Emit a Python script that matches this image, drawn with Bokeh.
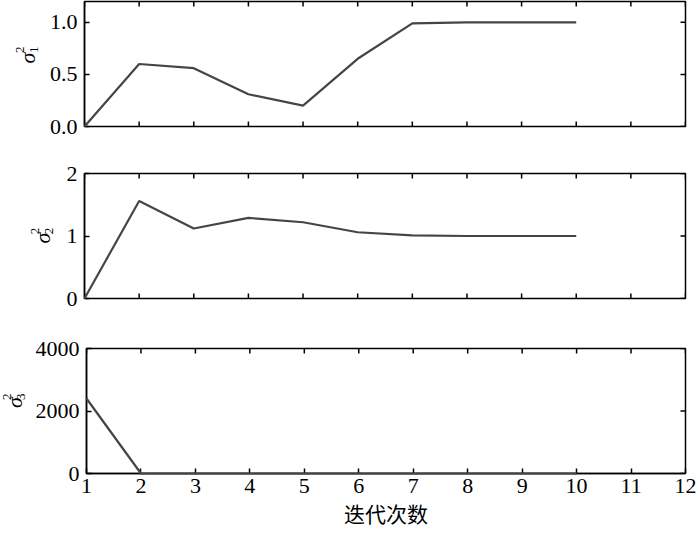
import math
from bokeh.plotting import figure
from bokeh.layouts import column, row
from bokeh.models import Range1d, FixedTicker, PrintfTickFormatter
from bokeh.core.properties import value
from bokeh.embed import file_html
from bokeh.resources import INLINE

iterations = [1, 2, 3, 4, 5, 6, 7, 8, 9, 10]
sigma1 = [0.0, 0.60, 0.56, 0.31, 0.20, 0.65, 0.99, 1.0, 1.0, 1.0]
sigma2 = [0.0, 1.56, 1.12, 1.29, 1.22, 1.06, 1.01, 1.0, 1.0, 1.0]
sigma3 = [2400, 0, 0, 0, 0, 0, 0, 0, 0, 0]

x_ticks = list(range(1, 13))
y_ticks = [[0, 0.5, 1.0], [0, 1, 2], [0, 2000, 4000]]
y_formats = ["%.1f", "%d", "%d"]
y_ranges = [(0, 1.2), (0, 2), (0, 4000)]
x_range = (1, 12)
subscripts = ["1", "2", "3"]
x_label = "迭代次数"

SERIF = "Liberation Serif"
LINE_COLOR = "#454545"
LEFT_TOTAL = 84          # canvas x of the plot frame's left edge
MAIN_FRAME_W = 601
BORDER_R = 12
TICK = 5
# per-panel: width of the left border holding tick labels, and shift of the y label
BORDERS_L = [40, 26, 52]
LABEL_SHIFT = [-2, 13, -15]


def add_inner_ticks(p, yr, yticks, bottom):
    kw = dict(length=TICK, length_units="screen", line_color="black", line_width=1.5)
    n = len(x_ticks)
    p.ray(x=x_ticks, y=[yr[1]] * n, angle=-math.pi / 2, **kw)
    if bottom:
        p.ray(x=x_ticks, y=[yr[0]] * n, angle=math.pi / 2, **kw)
    m = len(yticks)
    p.ray(x=[x_range[1]] * m, y=yticks, angle=math.pi, **kw)


def style_axis(ax, standoff):
    ax.axis_line_color = "black"
    ax.axis_line_width = 1.5
    ax.major_tick_in = TICK
    ax.major_tick_out = 0
    ax.major_tick_line_width = 1.5
    ax.minor_tick_line_color = None
    ax.major_label_text_font = SERIF
    ax.major_label_text_font_size = "22px"
    ax.major_label_text_color = "black"
    ax.major_label_standoff = standoff


def make_panel(idx, ys, top_b, frame_h, bottom_b, show_x):
    yr = y_ranges[idx]
    yticks = y_ticks[idx]
    height = top_b + frame_h + bottom_b
    bl = BORDERS_L[idx]
    label_w = LEFT_TOTAL - bl
    p = figure(width=bl + MAIN_FRAME_W + BORDER_R, height=height,
               output_backend="svg", toolbar_location=None,
               x_range=Range1d(*x_range), y_range=Range1d(*yr),
               min_border_left=bl, min_border_right=BORDER_R,
               min_border_top=top_b, min_border_bottom=bottom_b)
    p.grid.visible = False
    p.outline_line_color = "black"
    p.outline_line_width = 1.5

    for ax in p.yaxis:
        ax.ticker = FixedTicker(ticks=yticks)
        ax.formatter = PrintfTickFormatter(format=y_formats[idx])
        style_axis(ax, 7)

    if show_x:
        for ax in p.xaxis:
            ax.ticker = FixedTicker(ticks=x_ticks)
            style_axis(ax, 5)
            ax.axis_label = x_label
            ax.axis_label_text_font = "Noto Sans CJK SC"
            ax.axis_label_text_font_size = "21px"
            ax.axis_label_text_font_style = "normal"
            ax.axis_label_text_color = "black"
            ax.axis_label_standoff = 2
    else:
        p.xaxis.visible = False

    add_inner_ticks(p, yr, yticks, bottom=not show_x)

    r = p.line(iterations, ys, line_color=LINE_COLOR, line_width=2.2)
    r.level = "overlay"

    # side figure holding the rotated y label (sigma with stacked scripts)
    lf = figure(width=label_w, height=height, output_backend="svg", toolbar_location=None,
                x_range=Range1d(0, label_w), y_range=Range1d(0, height),
                min_border_left=0, min_border_right=0, min_border_top=0, min_border_bottom=0)
    lf.axis.visible = False
    lf.grid.visible = False
    lf.outline_line_color = None
    yc = bottom_b + frame_h / 2
    dx = LABEL_SHIFT[idx]
    lf.text(x=[28.5 + dx], y=[yc - 4.5], text=["σ"], angle=math.pi / 2,
            text_font=value(SERIF), text_font_style="italic", text_font_size="22px",
            text_align="center", text_baseline="middle", text_color="black")
    lf.text(x=[21.5 + dx], y=[yc + 5.5], text=["2"], angle=math.pi / 2,
            text_font=value(SERIF), text_font_size="13px",
            text_align="center", text_baseline="middle", text_color="black")
    lf.text(x=[35 + dx], y=[yc + 5.5], text=[subscripts[idx]], angle=math.pi / 2,
            text_font=value(SERIF), text_font_size="13px",
            text_align="center", text_baseline="middle", text_color="black")
    return row(lf, p, spacing=0)


r1 = make_panel(0, sigma1, 1, 125, 24, False)
r2 = make_panel(1, sigma2, 23, 125, 26, False)
r3 = make_panel(2, sigma3, 24, 125, 61, True)

layout = column(r1, r2, r3, spacing=0)
open("out.html", "w").write(file_html(layout, INLINE))
